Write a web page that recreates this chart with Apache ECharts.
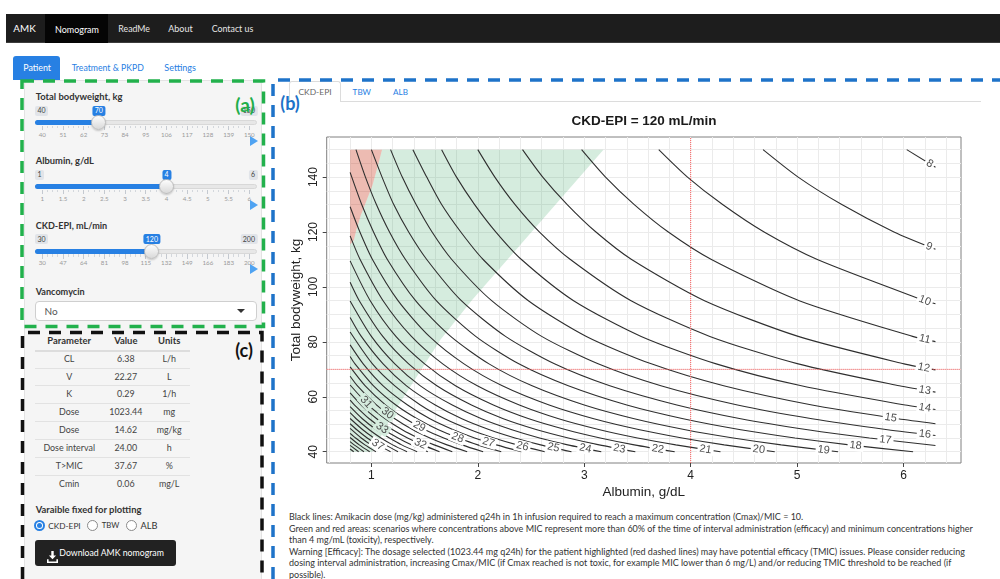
<!DOCTYPE html>
<html><head><meta charset="utf-8"><title>AMK Nomogram</title>
<script src="https://cdn.jsdelivr.net/npm/echarts@6.0.0/dist/echarts.min.js"></script>
<style>
*{box-sizing:border-box}
html,body{margin:0;padding:0;width:1000px;height:579px;overflow:hidden;background:#fff;font-family:Lato,"Noto Sans",sans-serif;color:#333}
#page{position:absolute;left:0;top:0;width:1000px;height:579px}
#chart{position:absolute;left:280px;top:104px;width:728px;height:400px}
#dash{position:absolute;left:0;top:0;pointer-events:none}
</style></head><body>
<div id="page"></div>
<div id="chart"></div>
<svg id="dash" width="1000" height="579"></svg>
<script>
// ======================= DATA =======================
// axis ticks / grid
const xTickValues = [1, 2, 3, 4, 5, 6];
const yTickValues = [40, 60, 80, 100, 120, 140];
const xGridValues = [0.6,0.8,1.0,1.2,1.4,1.6,1.8,2.0,2.2,2.4,2.6,2.8,3.0,3.2,3.4,3.6,3.8,4.0,4.2,4.4,4.6,4.8,5.0,5.2,5.4,5.6,5.8,6.0,6.2,6.4];
const yGridValues = [40,45,50,55,60,65,70,75,80,85,90,95,100,105,110,115,120,125,130,135,140,145,150];
const xRange = [0.58, 6.54];
const yRange = [35.9, 154.6];

// patient (red dashed lines)
const patientAlbumin = 4;
const patientWeight = 70;

// contour lines: dose (mg/kg) levels, points [albumin, bodyweight]
const c08 = [[6.03,150],[6.30,143.6]];
const c09 = [[4.68,150],[5.01,140],[5.42,130],[5.91,120],[6.30,113.7]];
const c10 = [[3.70,150],[3.97,140],[4.30,130],[4.69,120],[5.19,110],[6.20,95],[6.30,93.9]];
const c11 = [[2.975,150],[3.20,140],[3.47,130],[3.79,120],[4.195,110],[5.02,95],[6.085,82],[6.30,80.1]];
const c12 = [[2.42,150],[2.61,140],[2.84,130],[3.11,120],[3.445,110],[4.13,95],[5.01,82],[6.005,72],[6.30,69.8]];
const c13 = [[2.00,150],[2.16,140],[2.35,130],[2.58,120],[2.87,110],[3.44,95],[4.18,82],[5.01,72],[5.96,64],[6.30,61.7]];
const c14 = [[1.66,150],[1.80,140],[1.97,130],[2.17,120],[2.41,110],[2.90,95],[3.535,82],[4.24,72],[5.04,64],[6.015,57],[6.30,55.4]];
const c15 = [[1.39,150],[1.52,140],[1.66,130],[1.84,120],[2.05,110],[2.475,95],[3.02,82],[3.63,72],[4.31,64],[5.14,57],[5.95,52],[6.30,50.2]];
const c16 = [[1.18,150],[1.29,140],[1.42,130],[1.57,120],[1.755,110],[2.13,95],[2.60,82],[3.13,72],[3.72,64],[4.44,57],[5.14,52],[5.85,48],[6.30,45.9]];
const c17 = [[1.00,150],[1.10,140],[1.21,130],[1.35,120],[1.52,110],[1.845,95],[2.26,82],[2.72,72],[3.24,64],[3.87,57],[4.47,52],[5.10,48],[5.68,45],[6.30,42.3]];
const c18 = [[0.855,150],[0.944,140],[1.047,130],[1.17,120],[1.32,110],[1.61,95],[1.98,82],[2.385,72],[2.85,64],[3.40,57],[3.93,52],[4.47,48],[4.98,45],[5.49,42.5],[6.09,40]];
const c19 = [[0.80,141.7],[0.909,130],[1.02,120],[1.15,110],[1.415,95],[1.745,82],[2.105,72],[2.51,64],[3.00,57],[3.47,52],[3.95,48],[4.40,45],[4.85,42.5],[5.385,40]];
const c20 = [[0.80,129.2],[0.892,120],[1.01,110],[1.25,95],[1.545,82],[1.87,72],[2.23,64],[2.67,57],[3.09,52],[3.52,48],[3.92,45],[4.315,42.5],[4.79,40]];
const c21 = [[0.80,118.6],[0.894,110],[1.11,95],[1.376,82],[1.67,72],[1.995,64],[2.39,57],[2.76,52],[3.145,48],[3.50,45],[3.86,42.5],[4.28,40]];
const c22 = [[0.80,109.5],[0.989,95],[1.23,82],[1.50,72],[1.79,64],[2.146,57],[2.48,52],[2.83,48],[3.15,45],[3.47,42.5],[3.85,40]];
const c23 = [[0.80,101.7],[0.886,95],[1.107,82],[1.35,72],[1.615,64],[1.94,57],[2.24,52],[2.555,48],[2.85,45],[3.14,42.5],[3.48,40]];
const c24 = [[0.80,94.9],[1.00,82],[1.22,72],[1.46,64],[1.76,57],[2.035,52],[2.32,48],[2.58,45],[2.845,42.5],[3.16,40]];
const c25 = [[0.80,88.9],[0.905,82],[1.11,72],[1.33,64],[1.60,57],[1.85,52],[2.11,48],[2.35,45],[2.59,42.5],[2.88,40]];
const c26 = [[0.80,83.6],[1.01,72],[1.22,64],[1.46,57],[1.69,52],[1.93,48],[2.15,45],[2.37,42.5],[2.63,40]];
const c27 = [[0.80,78.9],[0.923,72],[1.11,64],[1.34,57],[1.55,52],[1.77,48],[1.97,45],[2.175,42.5],[2.41,40]];
const c28 = [[0.80,74.7],[0.846,72],[1.02,64],[1.23,57],[1.43,52],[1.63,48],[1.82,45],[2.00,42.5],[2.22,40]];
const c29 = [[0.80,70.9],[0.942,64],[1.135,57],[1.32,52],[1.505,48],[1.68,45],[1.85,42.5],[2.05,40]];
const c30 = [[0.80,67.5],[0.869,64],[1.05,57],[1.22,52],[1.39,48],[1.55,45],[1.71,42.5],[1.90,40]];
const c31 = [[0.80,64.3],[0.973,57],[1.13,52],[1.29,48],[1.44,45],[1.59,42.5],[1.76,40]];
const c32 = [[0.80,61.4],[0.904,57],[1.05,52],[1.20,48],[1.34,45],[1.48,42.5],[1.64,40]];
const c33 = [[0.80,58.8],[0.842,57],[0.98,52],[1.12,48],[1.25,45],[1.375,42.5],[1.53,40]];
const c34 = [[0.80,56.4],[0.915,52],[1.047,48],[1.17,45],[1.285,42.5],[1.43,40]];
const c35 = [[0.80,54.2],[0.857,52],[0.98,48],[1.09,45],[1.20,42.5],[1.335,40]];
const c36 = [[0.80,52.1],[0.919,48],[1.024,45],[1.13,42.5],[1.25,40]];
const c37 = [[0.80,50.2],[0.863,48],[0.961,45],[1.06,42.5],[1.18,40]];
const c38 = [[0.80,48.5],[0.905,45],[0.997,42.5],[1.106,40]];
const c39 = [[0.80,46.7],[0.852,45],[0.939,42.5],[1.042,40]];
const c40 = [[0.80,45.2],[0.886,42.5],[0.984,40]];
const c41 = [[0.80,43.7],[0.838,42.5],[0.93,40]];
const c42 = [[0.80,42.3],[0.88,40]];
const c43 = [[0.80,41.0],[0.834,40]];
const contourLevels = [8,9,10,11,12,13,14,15,16,17,18,19,20,21,22,23,24,25,26,27,28,29,30,31,32,33,34,35,36,37,38,39,40,41,42,43];
const contourLines = [c08,c09,c10,c11,c12,c13,c14,c15,c16,c17,c18,c19,c20,c21,c22,c23,c24,c25,c26,c27,c28,c29,c30,c31,c32,c33,c34,c35,c36,c37,c38,c39,c40,c41,c42,c43];

// contour labels
const labelLevels = [8,9,10,11,12,13,14,15,16,17,18,19,20,21,22,23,24,25,26,27,28,29,30,31,32,33,37];
const labelX = [6.245,6.24,6.20,6.20,6.19,6.20,6.20,5.88,6.20,5.83,5.55,5.25,4.64,4.14,3.69,3.33,3.01,2.71,2.42,2.10,1.81,1.45,1.15,0.95,1.46,1.10,1.06];
const labelY = [144.9,114.7,95.0,81.0,70.6,62.4,56.0,52.4,46.4,44.3,42.25,40.6,40.8,40.8,41.0,41.1,41.2,41.5,42.0,43.4,45.1,49.2,54.0,58.0,42.9,48.6,42.5];

// efficacy (green) / toxicity (red) areas
const greenBoundaryX = [1.01,1.23,1.43,1.65,1.95,2.55,3.18];
const greenBoundaryY = [40,55.5,67.6,80.9,95.4,122,150];
const redBoundaryX = [1.10,1.06,1.01,0.95,0.90,0.86,0.835,0.80];
const redBoundaryY = [150,144,137,131,126,121,117,115.5];
const areaLeftX = 0.80, areaBottomY = 40, areaTopY = 150;

// side panel content
const navItems = ['Nomogram','ReadMe','About','Contact us'];
const patientTabs = ['Patient','Treatment & PKPD','Settings'];
const sliderLabels = ['Total bodyweight, kg','Albumin, g/dL','CKD-EPI, mL/min'];
const sliderMin = [40, 1, 30];
const sliderMax = [150, 6, 200];
const sliderValue = [70, 4, 120];
const sliderTicks = [
  ['40','51','62','73','84','95','106','117','128','139','150'],
  ['1','1.5','2','2.5','3','3.5','4','4.5','5','5.5','6'],
  ['30','47','64','81','98','115','132','149','166','183','200']
];
const tableHeader = ['Parameter','Value','Units'];
const tableParams = ['CL','V','K','Dose','Dose','Dose interval','T>MIC','Cmin'];
const tableValues = ['6.38','22.27','0.29','1023.44','14.62','24.00','37.67','0.06'];
const tableUnits = ['L/h','L','1/h','mg','mg/kg','h','%','mg/L'];
const radioOptions = ['CKD-EPI','TBW','ALB'];
const plotTabs = ['CKD-EPI','TBW','ALB'];
const chartTitle = 'CKD-EPI = 120 mL/min';
const footLines = [
  'Black lines: Amikacin dose (mg/kg) administered q24h in 1h infusion required to reach a maximum concentration (Cmax)/MIC = 10.',
  'Green and red areas: scenarios where concentrations above MIC represent more than 60% of the time of interval administration (efficacy) and minimum concentrations higher',
  'than 4 mg/mL (toxicity), respectively.',
  'Warning [Efficacy]: The dosage selected (1023.44 mg q24h) for the patient highlighted (red dashed lines) may have potential efficacy (TMIC) issues. Please consider reducing',
  'dosing interval administration, increasing Cmax/MIC (if Cmax reached is not toxic, for example MIC lower than 6 mg/L) and/or reducing TMIC threshold to be reached (if',
  'possible).'
];

// ======================= PAGE (HTML UI) =======================
const BLUE = '#2780e3';
const P = document.getElementById('page');
function el(tag, css){ const e = document.createElement(tag); e.style.cssText = css; P.appendChild(e); return e; }
function rect(x,y,w,h,css){ return el('div', `position:absolute;left:${x}px;top:${y}px;width:${w}px;height:${h}px;${css||''}`); }
function text(s,x,y,size,css,anchor){
  const tr = anchor==='c' ? 'translate(-50%,-50%)' : anchor==='r' ? 'translate(-100%,-50%)' : 'translateY(-50%)';
  const e = el('div', `position:absolute;left:${x}px;top:${y}px;font-size:${size}px;line-height:1;white-space:nowrap;transform:${tr};${css||''}`);
  e.textContent = s; return e;
}
function fit(e, w){ const cw = e.getBoundingClientRect().width; const s = parseFloat(e.style.fontSize); const ns = s*w/cw; e.style.fontSize = ns + 'px'; return ns; }

// navbar
rect(6,14,994,29,'background:#1d1d1d;border-bottom:1px solid #3c3c3c');
rect(45,14,63,29,'background:#050505');
fit(text('AMK',13.3,28.8,12,'color:#fff'),22.4);
const navX = [55,118.3,168.3,211.7], navW = [44,31.7,24.4,41.6];
navItems.forEach((s,i)=>fit(text(s,navX[i],28.8,11,'color:'+(i===0?'#fff':'#e6e6e6')),navW[i]));

// top tabs
rect(13.3,55.5,47,24,'background:'+BLUE+';border-radius:3px 3px 0 0');
const tabX = [23.3,71.7,164.3], tabW = [27.7,72.3,31.7];
patientTabs.forEach((s,i)=>fit(text(s,tabX[i],67.5,10,'color:'+(i===0?'#fff':BLUE)),tabW[i]));

// side well
rect(24,80,238,520,'background:#f5f5f5;border:1px solid #e3e3e3;border-radius:4px');

// sliders
const sliderTop = [97, 161, 225.7];
const labelW = [87, 58.3, 71.6];
function badge(s, x, y, bg, fg, align){
  const tr = align==='l' ? 'translateY(-50%)' : align==='r' ? 'translate(-100%,-50%)' : 'translate(-50%,-50%)';
  const e = el('div', `position:absolute;left:${x}px;top:${y}px;transform:${tr};background:${bg};color:${fg};font-size:7px;line-height:1;padding:1.5px 2.5px;border-radius:2px;white-space:nowrap`);
  e.textContent = s; return e;
}
sliderLabels.forEach((lab,i)=>{
  const top = sliderTop[i];
  fit(text(lab,35.7,top,10,'font-weight:700;color:#333'),labelW[i]);
  const x0 = 42.3, x1 = 249.3;
  const vx = x0 + (sliderValue[i]-sliderMin[i])/(sliderMax[i]-sliderMin[i])*(x1-x0);
  badge(String(sliderMin[i]),35,top+13.5,'#e1e4e9','#444','l');
  badge(String(sliderMax[i]),257.5,top+13.5,'#e1e4e9','#444','r');
  badge(String(sliderValue[i]),vx,top+13.5,BLUE,'#fff','c');
  rect(35,top+23,222,5,'background:#e7e7e7;border:1px solid #d8d8d8;border-radius:3px');
  rect(35,top+23,vx-35,5,'background:'+BLUE+';border-radius:3px 0 0 3px');
  const ticks = sliderTicks[i];
  const n = ticks.length - 1;
  for (let j=0;j<=n;j++){
    const tx = x0 + j*(x1-x0)/n;
    rect(tx-0.5,top+28.5,1,4.5,'background:#c4c9d0');
    if (j<n) for (let m=1;m<4;m++) rect(tx + m*(x1-x0)/n/4 - 0.5, top+28.5, 1, 2.5, 'background:#d3d7dc');
    text(ticks[j],tx,top+37.5,6.2,'color:#9a9a9a','c');
  }
  rect(vx-7.5,top+18,15,15,'border-radius:50%;background:linear-gradient(#fdfdfd,#d9d9d9);border:1px solid #bcbcbc;box-shadow:0 1px 2px rgba(0,0,0,.2)');
  rect(249.5,top+38.5,0,0,'box-sizing:content-box;border-left:8px solid #4fa3f2;border-top:5px solid transparent;border-bottom:5px solid transparent');
});

// Vancomycin select
fit(text('Vancomycin',35.7,292.3,10,'font-weight:700;color:#333'),49);
rect(35,301,222,20,'background:#fff;border:1px solid #cfcfcf;border-radius:4px');
text('No',44.5,311,10,'color:#555');
rect(237,309,0,0,'box-sizing:content-box;border-top:4px solid #333;border-left:4px solid transparent;border-right:4px solid transparent');

// results table
const colX = [69.2,125.8,169.2];
const hdr = tableHeader.map((s,i)=>text(s,colX[i],341,9.5,'font-weight:700;color:#333','c'));
const hs = fit(hdr[0],43.7); hdr.forEach(h=>h.style.fontSize=hs+'px');
rect(35,349.5,155,2,'background:#dddddd');
const rowY = [359,376.7,394.3,412.3,430,448,465.7,483.7];
const cells = [];
tableParams.forEach((s,r)=>{
  cells.push(text(s,colX[0],rowY[r],9.5,'color:#444','c'));
  cells.push(text(tableValues[r],colX[1],rowY[r],9.5,'color:#444','c'));
  cells.push(text(tableUnits[r],colX[2],rowY[r],9.5,'color:#444','c'));
  if (r>0) rect(35,rowY[r]-9.2,155,1,'background:#e2e2e2');
});
const cs = fit(cells[15],51.7); cells.forEach(c=>c.style.fontSize=cs+'px');

// radio buttons
fit(text('Varaible fixed for plotting',35.7,510,10,'font-weight:700;color:#333'),106);
const radioX = [39.3,92.5,131], radioTX = [48.3,101.7,140.5], radioTW = [32.4,17.6,17];
radioOptions.forEach((s,i)=>{
  if (i===0){
    rect(radioX[i]-5.5,519.8,11,11,'border-radius:50%;background:#fff;border:2.2px solid '+BLUE);
    rect(radioX[i]-2.5,522.8,5,5,'border-radius:50%;background:'+BLUE);
  } else {
    rect(radioX[i]-5.5,519.8,11,11,'border-radius:50%;background:#fff;border:1px solid #8a8a8a');
  }
  fit(text(s,radioTX[i],525.5,10,'color:#333'),radioTW[i]);
});

// download button
rect(35,540,141,25.5,'background:#222;border-radius:3px');
const ic = el('div','position:absolute;left:46.5px;top:547px;width:11px;height:12px');
ic.innerHTML = '<svg width="11" height="12" viewBox="0 0 11 12"><path d="M4.3 0h2.4v4.6h2.4L5.5 8.3 1.9 4.6h2.4z" fill="#fff"/><path d="M0 8.2h1.6v2.2h7.8V8.2H11V12H0z" fill="#fff"/></svg>';
fit(text('Download AMK nomogram',59.3,553,10,'color:#fff'),104.7);

// right tabs
rect(289,81,52,21,'background:#fff;border:1px solid #dcdcdc;border-bottom:none;border-radius:3px 3px 0 0');
rect(341,101,640,1,'background:#dcdcdc');
const ptX = [315,361.8,400.5], ptW = [33.2,18.4,15];
plotTabs.forEach((s,i)=>fit(text(s,ptX[i],91.5,9,'color:'+(i===0?'#666':BLUE),'c'),ptW[i]));

// panel tags
text('(a)',245,104,19,'font-weight:700;color:#1fae4a','c');
text('(b)',290,102.5,18,'font-weight:700;color:#1d72c8','c');
text('(c)',244,350,18,'font-weight:700;color:#111','c');

// footnote text
const feet = footLines.map((s,i)=>text(s,289,516 + i*11.6,9.5,'color:#333'));
const fs = fit(feet[1],684); feet.forEach(f=>f.style.fontSize=fs+'px');

// dashed frames
document.getElementById('dash').innerHTML =
  '<rect x="22" y="81" width="241.5" height="245.5" fill="none" stroke="#22b14c" stroke-width="3.5" stroke-dasharray="12 9"/>' +
  '<polyline points="22.5,600 22.5,332.5 262,332.5 262,600" fill="none" stroke="#111" stroke-width="3.5" stroke-dasharray="12 9"/>' +
  '<polyline points="273,600 273,80 1000,80" fill="none" stroke="#1e73c9" stroke-width="3.5" stroke-dasharray="12 9"/>';

// ======================= CHART (ECharts) =======================
const contourByLevel = {};
contourLevels.forEach((lv,i)=>{ contourByLevel[lv] = contourLines[i]; });

const GREEN_FILL = 'rgba(46,160,90,0.2)';
const RED_FILL = 'rgba(200,50,20,0.33)';
const GREEN_SOLID = '#d5ecde';
const RED_SOLID = '#edbbb2';

function xAt(bx, by, y){
  for (let i=0;i<by.length-1;i++){
    const y0 = by[i], y1 = by[i+1];
    if ((y-y0)*(y-y1) <= 0 && y0 !== y1){ const t = (y-y0)/(y1-y0); return bx[i] + t*(bx[i+1]-bx[i]); }
  }
  return null;
}
function bgAt(x, y){
  const rx = xAt(redBoundaryX, redBoundaryY, y);
  if (rx !== null && x < rx) return RED_SOLID;
  const gx = xAt(greenBoundaryX, greenBoundaryY, y);
  if (gx !== null && x < gx) return GREEN_SOLID;
  return '#ffffff';
}

const redPoly = [[areaLeftX, areaTopY]].concat(redBoundaryX.map((x,i)=>[x, redBoundaryY[i]]));
const greenPoly = [[areaLeftX, areaBottomY]]
  .concat(greenBoundaryX.map((x,i)=>[x, greenBoundaryY[i]]))
  .concat(redBoundaryX.map((x,i)=>[x, redBoundaryY[i]]));

function polygonSeries(pts, color){
  return {
    type:'custom', silent:true, z:1, data:[[1,50]],
    renderItem: function(params, api){
      return {type:'polygon', shape:{points: pts.map(p=>api.coord(p))}, style:{fill: color}};
    }
  };
}

const series = [];
series.push(polygonSeries(greenPoly, GREEN_FILL));
series.push(polygonSeries(redPoly, RED_FILL));
contourLevels.forEach(lv=>{
  series.push({
    type:'line', data: contourByLevel[lv], smooth:0.25,
    symbol:'none', showSymbol:false, silent:true, z:3,
    lineStyle:{color:'#2f2f2f', width:1.1}, emphasis:{disabled:true}
  });
});
series.push({
  type:'line', data:[[patientAlbumin, yRange[0]],[patientAlbumin, yRange[1]]], symbol:'none', silent:true, z:4,
  lineStyle:{color:'#ff5b5b', width:1, type:'dotted'}
});
series.push({
  type:'line', data:[[xRange[0], patientWeight],[xRange[1], patientWeight]], symbol:'none', silent:true, z:4,
  lineStyle:{color:'#ff5b5b', width:1, type:'dotted'}
});
series.push({
  type:'custom', silent:true, z:5,
  data: labelLevels.map((lv,i)=>[labelX[i], labelY[i], lv]),
  renderItem: function(params, api){
    const i = params.dataIndex;
    const lv = labelLevels[i], x = labelX[i], y = labelY[i];
    const pts = contourByLevel[lv];
    let k = pts.length - 2;
    for (let j=0;j<pts.length-1;j++){ if (x <= pts[j+1][0]) { k = j; break; } }
    const a = api.coord(pts[k]), b = api.coord(pts[k+1]);
    const ang = Math.atan2(b[1]-a[1], b[0]-a[0]);
    const c = api.coord([x, y]);
    return {
      type:'text', x:c[0], y:c[1], rotation:-ang,
      style:{text:String(lv), x:0, y:0, align:'center', verticalAlign:'middle',
        font:'11px "Liberation Sans", Arial, sans-serif', fill:'#505050',
        backgroundColor:bgAt(x,y), padding:[0,2]}
    };
  }
});

const FONT = '"Liberation Sans", Arial, sans-serif';
const chart = echarts.init(document.getElementById('chart'), null, {renderer:'canvas'});
chart.setOption({
  animation:false,
  title:{text:chartTitle, left:'center', top:10, padding:0,
    textStyle:{fontSize:13.5, fontWeight:'bold', color:'#1a1a1a', fontFamily:FONT}},
  grid:{left:46.7, top:33, width:634.3, height:327, show:true, borderColor:'#808080', borderWidth:1, backgroundColor:'#fff', containLabel:false},
  xAxis:[
    {type:'value', min:xRange[0], max:xRange[1], position:'bottom',
      axisLine:{show:false}, axisTick:{show:false, customValues:xGridValues},
      axisLabel:{show:false, customValues:xGridValues},
      splitLine:{show:true, lineStyle:{color:'#ebebeb', width:1}}},
    {type:'value', min:xRange[0], max:xRange[1], position:'bottom',
      axisLine:{show:false}, axisTick:{show:true, length:4, customValues:xTickValues, lineStyle:{color:'#444'}},
      axisLabel:{customValues:xTickValues, margin:7, color:'#222', fontSize:12, fontFamily:FONT},
      splitLine:{show:false},
      name:'Albumin, g/dL', nameLocation:'middle', nameGap:22, nameMoveOverlap:false,
      nameTextStyle:{fontSize:13.5, color:'#222', fontFamily:FONT}}
  ],
  yAxis:[
    {type:'value', min:yRange[0], max:yRange[1], position:'left',
      axisLine:{show:false}, axisTick:{show:false, customValues:yGridValues},
      axisLabel:{show:false, customValues:yGridValues},
      splitLine:{show:true, lineStyle:{color:'#ebebeb', width:1}}},
    {type:'value', min:yRange[0], max:yRange[1], position:'left',
      axisLine:{show:false}, axisTick:{show:true, length:4, customValues:yTickValues, lineStyle:{color:'#444'}},
      axisLabel:{customValues:yTickValues, rotate:90, margin:7, color:'#222', fontSize:12, fontFamily:FONT},
      splitLine:{show:false},
      name:'Total bodyweight, kg', nameLocation:'middle', nameGap:23, nameMoveOverlap:false,
      nameTextStyle:{fontSize:13.5, color:'#222', fontFamily:FONT}}
  ],
  series: series
});
</script>
</body></html>
